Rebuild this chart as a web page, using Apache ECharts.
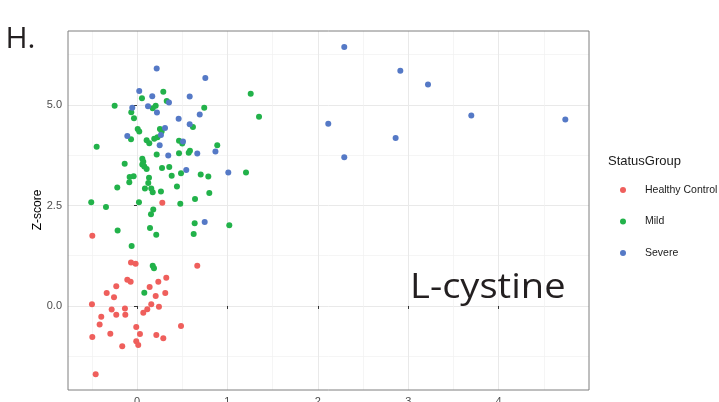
<!DOCTYPE html>
<html>
<head>
<meta charset="utf-8">
<script src="https://cdn.jsdelivr.net/npm/echarts@6/dist/echarts.min.js"></script>
<style>
html,body{margin:0;padding:0;background:#fff;}
#chart{width:719px;height:402px;}
</style>
</head>
<body>
<div id="chart"></div>
<script>
// ---- data (x, z-score) ----
var healthyControl = [
  [0.28, 2.57], [-0.494, 1.75], [-0.066, 1.08], [-0.015, 1.05], [0.667, 1.00],
  [-0.107, 0.65], [-0.07, 0.60], [0.324, 0.70], [0.236, 0.60], [-0.229, 0.49],
  [0.14, 0.47], [-0.335, 0.32], [-0.254, 0.22], [0.313, 0.32], [0.207, 0.25],
  [-0.498, 0.04], [0.158, 0.04], [-0.28, -0.09], [-0.133, -0.06], [0.114, -0.08],
  [0.243, -0.02], [0.07, -0.17], [-0.395, -0.27], [-0.229, -0.22], [-0.129, -0.22],
  [-0.413, -0.46], [-0.008, -0.52], [0.487, -0.50], [-0.295, -0.69], [0.033, -0.70],
  [-0.494, -0.77], [0.214, -0.72], [0.291, -0.80], [-0.163, -1.00], [-0.008, -0.88],
  [0.014, -0.97], [-0.457, -1.70]
];
var mild = [
  [0.291, 5.33], [0.055, 5.17], [0.329, 5.10], [-0.247, 4.98], [0.207, 4.98],
  [0.174, 4.92], [-0.063, 4.82], [-0.033, 4.67], [0.744, 4.93], [1.258, 5.28],
  [1.35, 4.71], [0.619, 4.45], [0.008, 4.40], [0.025, 4.34], [0.254, 4.40],
  [0.273, 4.34], [-0.066, 4.15], [0.107, 4.12], [0.136, 4.05], [0.191, 4.16],
  [0.227, 4.20], [0.465, 4.11], [0.501, 4.04], [0.888, 4.00], [-0.446, 3.96],
  [0.586, 3.86], [0.572, 3.81], [0.465, 3.80], [0.218, 3.77], [-0.136, 3.54],
  [0.059, 3.66], [0.070, 3.59], [0.059, 3.52], [0.081, 3.47], [0.107, 3.41],
  [0.277, 3.43], [0.357, 3.46], [0.487, 3.30], [0.384, 3.24], [0.705, 3.27],
  [0.789, 3.22], [1.206, 3.32], [-0.081, 3.21], [-0.037, 3.23], [-0.085, 3.08],
  [0.133, 3.19], [0.125, 3.06], [-0.218, 2.95], [0.088, 2.92], [0.158, 2.92],
  [0.174, 2.83], [0.265, 2.85], [0.442, 2.97], [0.80, 2.81], [0.642, 2.66],
  [-0.506, 2.58], [-0.343, 2.46], [0.022, 2.58], [0.180, 2.40], [0.155, 2.28],
  [0.479, 2.54], [0.638, 2.06], [1.021, 2.01], [0.627, 1.79], [-0.214, 1.88],
  [0.144, 1.94], [0.213, 1.77], [-0.059, 1.49], [0.174, 1.00], [0.188, 0.94],
  [0.081, 0.33]
];
var severe = [
  [0.218, 5.91], [0.756, 5.67], [0.025, 5.35], [0.169, 5.22], [0.583, 5.21],
  [-0.052, 4.93], [0.122, 4.97], [0.354, 5.06], [0.221, 4.81], [0.461, 4.66],
  [0.694, 4.76], [0.583, 4.52], [0.310, 4.43], [-0.107, 4.23], [0.265, 4.25],
  [0.251, 4.00], [0.509, 4.09], [0.346, 3.74], [0.667, 3.79], [0.868, 3.84],
  [0.545, 3.38], [1.010, 3.32], [0.749, 2.09],
  [2.293, 6.44], [2.913, 5.85], [3.219, 5.51], [3.698, 4.74], [4.738, 4.64],
  [2.116, 4.53], [2.861, 4.18], [2.293, 3.70]
];
var groupNames = ['Healthy Control', 'Mild', 'Severe'];
var xMajorTicks = [0, 1, 2, 3, 4];
var xMinorTicks = [-0.5, 0.5, 1.5, 2.5, 3.5, 4.5];
var yMajorTicks = [0, 2.5, 5];
var yMinorTicks = [-1.25, 1.25, 3.75, 6.25];
var xRange = [-0.763, 5.0];
var yRange = [-2.09, 6.84];

var colors = ['#EF5F5C', '#22B24A', '#5579C6'];
var chart = echarts.init(document.getElementById('chart'), null, {renderer: 'canvas'});

var option = {
  backgroundColor: '#ffffff',
  animation: false,
  grid: {left: 68, top: 31, right: 130, bottom: 12, show: true, containLabel: false,
    outerBoundsMode: 'none',
    borderColor: '#7f7f7f', borderWidth: 1, backgroundColor: 'transparent', z: 10},
  xAxis: [
    {
      type: 'value', gridIndex: 0, position: 'bottom',
      min: xRange[0], max: xRange[1],
      axisLine: {show: false},
      axisTick: {show: true, length: 3, lineStyle: {color: '#333', width: 1}, customValues: xMajorTicks},
      axisLabel: {show: true, customValues: xMajorTicks, color: '#4d4d4d', fontSize: 11,
        fontFamily: 'Liberation Sans, Arial, sans-serif', margin: 6},
      splitLine: {show: true, lineStyle: {color: '#e9e9e9', width: 1}}
    },
    {
      type: 'value', gridIndex: 0, position: 'top',
      min: xRange[0], max: xRange[1],
      axisLine: {show: false},
      axisTick: {show: false, customValues: xMinorTicks},
      axisLabel: {show: false, customValues: xMinorTicks},
      splitLine: {show: true, lineStyle: {color: '#f1f1f1', width: 0.7}}
    }
  ],
  yAxis: [
    {
      type: 'value', gridIndex: 0, position: 'left',
      min: yRange[0], max: yRange[1],
      axisLine: {show: false},
      axisTick: {show: true, length: 3, lineStyle: {color: '#333', width: 1}, customValues: yMajorTicks},
      axisLabel: {show: true, customValues: yMajorTicks, color: '#4d4d4d', fontSize: 11,
        fontFamily: 'Liberation Sans, Arial, sans-serif', margin: 6,
        formatter: function (v) { return Number(v).toFixed(1); }},
      splitLine: {show: true, lineStyle: {color: '#e9e9e9', width: 1}}
    },
    {
      type: 'value', gridIndex: 0, position: 'right',
      min: yRange[0], max: yRange[1],
      axisLine: {show: false},
      axisTick: {show: false, customValues: yMinorTicks},
      axisLabel: {show: false, customValues: yMinorTicks},
      splitLine: {show: true, lineStyle: {color: '#f1f1f1', width: 0.7}}
    }
  ],
  legend: {
    show: true, orient: 'vertical', left: 615, top: 178,
    data: groupNames,
    icon: 'circle', itemWidth: 6, itemHeight: 6, itemGap: 17.5,
    textStyle: {color: '#1a1a1a', fontSize: 10.5, lineHeight: 14,
      fontFamily: 'Liberation Sans, Arial, sans-serif', padding: [0, 0, 0, 14]},
    selectedMode: false
  },
  graphic: [
    {type: 'text', left: 608, top: 155, style: {text: 'StatusGroup', fill: '#1a1a1a',
      font: '13px "Liberation Sans", Arial, sans-serif'}},
    {type: 'text', x: 37.5, y: 210, rotation: Math.PI / 2, style: {text: 'Z-score', fill: '#000',
      align: 'center', verticalAlign: 'middle', font: '12px "Liberation Sans", Arial, sans-serif'}},
    {type: 'text', x: 5.4, y: 39.4, style: {text: 'H.', fill: '#231f20', verticalAlign: 'middle',
      font: '30px "Open Sans", sans-serif'}},
    {type: 'text', x: 410, y: 288.3, scaleX: 1.12, z: 20, style: {text: 'L-cystine', fill: '#231f20',
      verticalAlign: 'middle', font: '34px "Open Sans", sans-serif'}}
  ],
  series: [
    {name: groupNames[0], type: 'scatter', xAxisIndex: 0, yAxisIndex: 0, data: healthyControl,
      symbolSize: 6, itemStyle: {color: colors[0], opacity: 1}},
    {name: groupNames[1], type: 'scatter', xAxisIndex: 0, yAxisIndex: 0, data: mild,
      symbolSize: 6, itemStyle: {color: colors[1], opacity: 1}},
    {name: groupNames[2], type: 'scatter', xAxisIndex: 0, yAxisIndex: 0, data: severe,
      symbolSize: 6, itemStyle: {color: colors[2], opacity: 1}}
  ]
};
chart.setOption(option);
</script>
</body>
</html>
